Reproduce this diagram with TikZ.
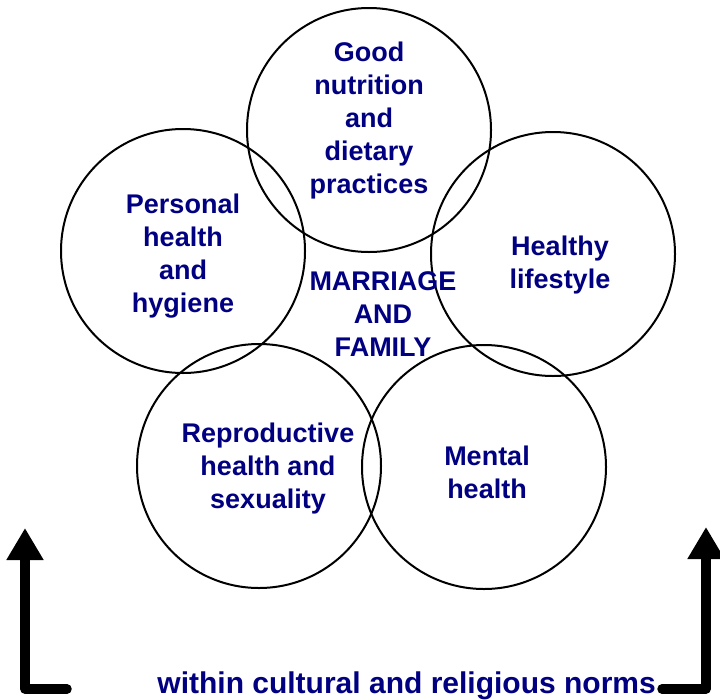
\documentclass[tikz,border=0pt]{standalone}
\usepackage{fontspec}
\setmainfont{Liberation Sans}
\usetikzlibrary{arrows.meta}
\definecolor{txt}{RGB}{0,0,128}
\begin{document}
\begin{tikzpicture}[x=1pt,y=-1pt,
  circ/.style={circle,draw=black,line width=2pt,minimum size=244pt,inner sep=0pt},
  lbl/.style={text=txt,font=\bfseries\fontsize{27}{33}\selectfont,align=center},
  bigarrow/.style={line width=9.5pt,line cap=round,line join=round,-{Triangle[width=35pt,length=32pt]}}]
\useasboundingbox (0,0) rectangle (720,699);
\node[circ] (top) at (369,130) {};
\node[circ] (left) at (183,251) {};
\node[circ] (right) at (553,254) {};
\node[circ] (bl) at (259,466) {};
\node[circ] (br) at (484,467) {};
\node[lbl] (ttop) at (369,121) {Good\\nutrition\\and\\dietary\\practices};
\node[lbl] (tleft) at (183,256) {Personal\\health\\and\\hygiene};
\node[lbl] (tright) at (560,265) {Healthy\\lifestyle};
\node[lbl] (tbl) at (268,469) {Reproductive\\health and\\sexuality};
\node[lbl] (tbr) at (487,472) {Mental\\health};
\node[lbl] (tc) at (383,314) {MARRIAGE\\AND\\FAMILY};
\node[lbl,font=\bfseries\fontsize{30}{33}\selectfont,anchor=base east,inner sep=0pt] (norms) at (656,693) {within cultural and religious norms};
\coordinate (lstart) at (67,689);
\coordinate (ltip) at (25,528);
\coordinate (rtip) at (706,527);
\coordinate (rstart) at (662,689);
\draw[bigarrow] (lstart) -| (ltip);
\draw[bigarrow] (rstart) -| (rtip);
\end{tikzpicture}
\end{document}
